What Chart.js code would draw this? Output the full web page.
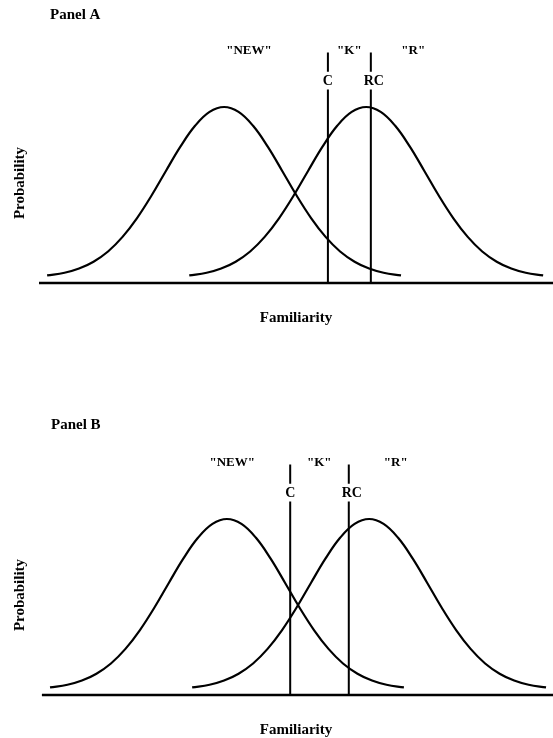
<!DOCTYPE html>
<html>
<head>
<meta charset="utf-8">
<script src="https://cdn.jsdelivr.net/npm/chart.js@4.4.1/dist/chart.umd.min.js"></script>
<style>
  body { margin: 0; background: #fff; }
  #page { position: relative; width: 553px; height: 738px; overflow: hidden; }
  canvas { position: absolute; left: 0; }
</style>
</head>
<body>
<div id="page">
  <canvas id="panelA" width="553" height="327" style="top:0px"></canvas>
  <canvas id="panelB" width="553" height="327" style="top:412px"></canvas>
</div>
<script>
// familiarity (sd units) and probability
const newX = [-3.05, -2.75, -2.5, -2.25, -2, -1.75, -1.5, -1.25, -1, -0.75, -0.5, -0.25, 0,
              0.25, 0.5, 0.75, 1, 1.25, 1.5, 1.75, 2, 2.25, 2.5, 2.75, 3.05];
const newY = [0.043, 0.058, 0.082, 0.121, 0.179, 0.262, 0.369, 0.497, 0.638, 0.776, 0.893, 0.972, 1,
              0.972, 0.893, 0.776, 0.638, 0.497, 0.369, 0.262, 0.179, 0.121, 0.082, 0.058, 0.043];
const oldX = [-0.6, -0.3, -0.05, 0.2, 0.45, 0.7, 0.95, 1.2, 1.45, 1.7, 1.95, 2.2, 2.45,
              2.7, 2.95, 3.2, 3.45, 3.7, 3.95, 4.2, 4.45, 4.7, 4.95, 5.2, 5.5];
const oldY = [0.043, 0.058, 0.082, 0.121, 0.179, 0.262, 0.369, 0.497, 0.638, 0.776, 0.893, 0.972, 1,
              0.972, 0.893, 0.776, 0.638, 0.497, 0.369, 0.262, 0.179, 0.121, 0.082, 0.058, 0.043];

// criterion positions (C, RC) in each panel
const criterionNames = ['C', 'RC'];
const criteriaA = [1.79, 2.53];
const criteriaB = [1.09, 2.10];
const responseNames = ['"NEW"', '"K"', '"R"'];

const FONT = '"Liberation Serif", "Times New Roman", serif';

function toPoints(xs, ys) {
    return xs.map((x, i) => ({ x: x, y: ys[i] }));
}

// vertical criterion line, broken where its name sits
function criterionLine(x) {
    return [{ x: x, y: 0 }, { x: x, y: 1.10 }, { x: x, y: null }, { x: x, y: 1.20 }, { x: x, y: 1.31 }];
}

const panelText = {
    id: 'panelText',
    afterDraw(chart, args, opts) {
        const ctx = chart.ctx;
        const xs = chart.scales.x, ys = chart.scales.y;
        ctx.save();
        // familiarity axis
        const y0 = ys.getPixelForValue(0);
        ctx.strokeStyle = '#000';
        ctx.lineWidth = 2.6;
        ctx.beginPath();
        ctx.moveTo(xs.getPixelForValue(-3.19), y0);
        ctx.lineTo(chart.width, y0);
        ctx.stroke();

        ctx.fillStyle = '#000';
        ctx.textBaseline = 'middle';
        ctx.font = 'bold 15px ' + FONT;
        ctx.textAlign = 'left';
        ctx.fillText(opts.title, opts.titleX, opts.titleY);
        ctx.textAlign = 'center';
        ctx.fillText('Familiarity', 296, 318);
        ctx.save();
        ctx.translate(20, 183);
        ctx.rotate(-Math.PI / 2);
        ctx.fillText('Probability', 0, 0);
        ctx.restore();

        ctx.font = 'bold 13px ' + FONT;
        responseNames.forEach((name, i) => {
            ctx.fillText(name, xs.getPixelForValue(opts.responseAt[i]), ys.getPixelForValue(1.32));
        });

        ctx.font = 'bold 14px ' + FONT;
        criterionNames.forEach((name, i) => {
            const shift = i === 1 ? 3 : 0;
            ctx.fillText(name, xs.getPixelForValue(opts.criteria[i]) + shift, ys.getPixelForValue(1.147));
        });
        ctx.restore();
    }
};

function makePanel(id, title, titleX, titleY, criteria, xMin, xMax, responseAt) {
    const ctx = document.getElementById(id).getContext('2d');
    const curve = { borderColor: '#000', borderWidth: 2.2, pointRadius: 0, fill: false,
                    showLine: true, tension: 0.4 };
    const vline = { borderColor: '#000', borderWidth: 2, pointRadius: 0, fill: false,
                    showLine: true, spanGaps: false, tension: 0 };
    return new Chart(ctx, {
        type: 'scatter',
        data: {
            datasets: [
                Object.assign({ data: toPoints(newX, newY) }, curve),
                Object.assign({ data: toPoints(oldX, oldY) }, curve),
                Object.assign({ data: criterionLine(criteria[0]) }, vline),
                Object.assign({ data: criterionLine(criteria[1]) }, vline)
            ]
        },
        options: {
            responsive: false,
            animation: false,
            layout: { padding: { left: 39, right: 0, top: 19, bottom: 44 } },
            scales: {
                x: { type: 'linear', display: false, min: xMin, max: xMax },
                y: { type: 'linear', display: false, min: 0, max: 1.5 }
            },
            plugins: {
                legend: { display: false },
                tooltip: { enabled: false },
                panelText: { title, titleX, titleY, criteria, responseAt }
            }
        },
        plugins: [panelText]
    });
}

makePanel('panelA', 'Panel A', 50, 15, criteriaA, -3.19, 5.67, [0.43, 2.16, 3.26]);
makePanel('panelB', 'Panel B', 51, 13, criteriaB, -3.24, 5.62, [0.09, 1.59, 2.91]);
</script>
</body>
</html>
